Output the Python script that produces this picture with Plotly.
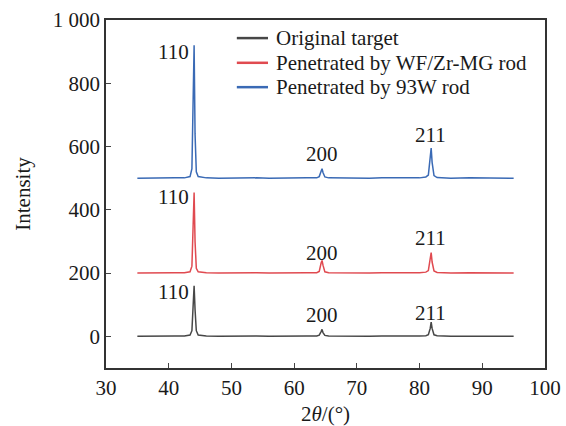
import plotly.graph_objects as go

# 2θ sample points (degrees)
two_theta = [35.0, 37.0, 39.0, 41.0, 42.5, 43.4, 43.7, 43.9, 44.05, 44.2, 44.4, 44.7, 46.0,
             48.0, 50.0, 52.0, 54.0, 56.0, 58.0, 60.0, 62.0, 63.6, 64.0, 64.3, 64.45, 64.6,
             64.9, 65.5, 68.0, 70.0, 72.0, 74.0, 76.0, 78.0, 80.0, 81.0, 81.4, 81.7, 81.85,
             82.0, 82.3, 82.8, 85.0, 88.0, 91.0, 95.0]

original = [0, 1, 0, 1, 1, 4, 18, 95, 160, 85, 18, 4, 1,
            0, 1, 0, 1, 0, 1, 0, 1, 1, 4, 15, 22, 12,
            3, 1, 0, 1, 0, 1, 0, 1, 1, 2, 5, 25, 45,
            25, 5, 2, 0, 1, 0, 0]

wf_zr_mg = [200, 201, 200, 201, 201, 204, 222, 330, 455, 300, 215, 204, 201,
            200, 201, 200, 201, 200, 201, 200, 201, 201, 205, 232, 240, 225,
            204, 201, 200, 201, 200, 201, 200, 201, 201, 203, 208, 240, 265,
            235, 207, 202, 200, 201, 200, 200]

w93 = [500, 501, 500, 501, 501, 505, 530, 700, 920, 640, 520, 505, 501,
       500, 501, 500, 501, 500, 501, 500, 501, 501, 505, 522, 530, 518,
       504, 501, 500, 501, 500, 501, 500, 501, 501, 504, 510, 560, 595,
       550, 508, 502, 500, 501, 500, 500]

series_names = ["Original target", "Penetrated by WF/Zr-MG rod", "Penetrated by 93W rod"]
series_colors = ["#474747", "#e04a50", "#3a6ab5"]

peak_labels = ["110", "200", "211"]
label_x = [43.6, 64.4, 81.8]
label_anchor = ["right", "center", "center"]
label_y_original = [140, 68, 74]
label_y_wf = [440, 265, 312]
label_y_93w = [898, 575, 638]

y_tickvals = [0, 200, 400, 600, 800, 1000]
y_ticktext = ["0", "200", "400", "600", "800", "1 000"]
x_tickvals = [30, 40, 50, 60, 70, 80, 90, 100]

x_title = "2<i>θ</i>/(°)"
y_title = "Intensity"

# legend row positions (paper coords)
legend_rows_y = [0.948, 0.877, 0.807]

fig = go.Figure()
for name, ys, col in zip(series_names, [original, wf_zr_mg, w93], series_colors):
    fig.add_trace(go.Scatter(x=two_theta, y=ys, mode="lines", name=name,
                             line=dict(color=col, width=1.5), showlegend=False))

font_family = "Liberation Serif"
fs = 21
txt_color = "#1a1a1a"
annotations = []
for ys in [label_y_original, label_y_wf, label_y_93w]:
    for lab, lx, ly, anc in zip(peak_labels, label_x, ys, label_anchor):
        annotations.append(dict(x=lx, y=ly, text=lab, showarrow=False,
                                font=dict(family=font_family, size=fs, color=txt_color),
                                xanchor=anc, yanchor="middle"))

shapes = []
for name, col, ry in zip(series_names, series_colors, legend_rows_y):
    shapes.append(dict(type="line", xref="paper", yref="paper", x0=0.298, x1=0.369,
                       y0=ry, y1=ry, line=dict(color=col, width=2.5)))
    annotations.append(dict(xref="paper", yref="paper", x=0.383, y=ry, text=name,
                            showarrow=False, xanchor="left", yanchor="middle",
                            font=dict(family=font_family, size=fs, color=txt_color)))

# x-axis title
annotations.append(dict(xref="paper", yref="paper", x=0.5, y=-0.132, text=x_title,
                        showarrow=False, xanchor="center", yanchor="middle", borderpad=0,
                        font=dict(family=font_family, size=fs, color=txt_color)))

fig.update_layout(
    width=566, height=426,
    margin=dict(l=106, r=21, t=20, b=58, autoexpand=False),
    paper_bgcolor="white", plot_bgcolor="white",
    font=dict(family=font_family, size=fs, color=txt_color),
    showlegend=False,
    annotations=annotations,
    shapes=shapes,
    xaxis=dict(range=[30, 100], tickvals=x_tickvals, ticks="inside", ticklen=5,
               showline=True, linecolor="#333333", linewidth=1.5, mirror=True,
               showgrid=False, zeroline=False, automargin=False,
               tickfont=dict(family=font_family, size=fs)),
    yaxis=dict(range=[-100, 1000], tickvals=y_tickvals, ticktext=y_ticktext,
               ticks="inside", ticklen=5,
               showline=True, linecolor="#333333", linewidth=1.5, mirror=True,
               showgrid=False, zeroline=False, automargin=False,
               title=dict(text=y_title, font=dict(family=font_family, size=fs), standoff=16),
               tickfont=dict(family=font_family, size=fs)),
)

fig.write_html("out.html")
